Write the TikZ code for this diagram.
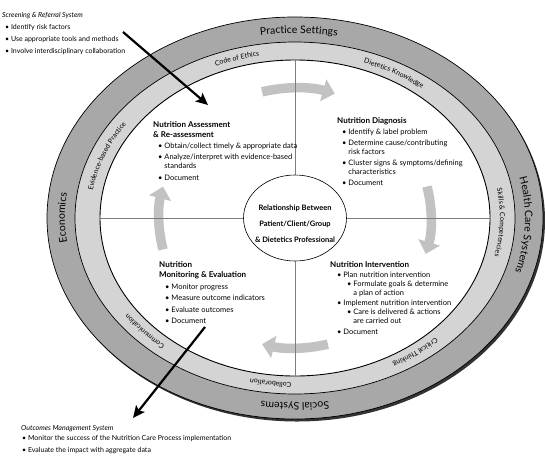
\documentclass[tikz,border=0pt]{standalone}
\usepackage{fontspec}
\setmainfont{Lato}
\usetikzlibrary{arrows.meta,positioning,decorations.text,shapes.geometric}
\definecolor{outerband}{RGB}{168,168,168}
\definecolor{innerband}{RGB}{212,212,212}
\definecolor{cyclegrey}{RGB}{194,194,194}
\definecolor{divgrey}{RGB}{125,125,125}
\tikzset{
  ringline/.style={draw=black,line width=0.7pt},
  divider/.style={draw=divgrey,line width=0.6pt},
  cyc/.style={draw=cyclegrey,line width=9.5pt,-{Triangle[length=12pt,width=22pt]}},
  pointer/.style={draw=black,line width=2.2pt,-{Stealth[length=12pt,width=11pt,inset=2.5pt]}},
  steptitle/.style={font=\fontsize{8}{10}\selectfont\bfseries,align=left,inner sep=0pt,anchor=north west},
  steplist/.style={font=\fontsize{7.5}{9}\selectfont,align=left,inner sep=0pt,anchor=north west},
  systitle/.style={font=\fontsize{7}{8}\selectfont\itshape,inner sep=0pt,anchor=base west},
  syslist/.style={font=\fontsize{7}{12}\selectfont,align=left,inner sep=0pt,anchor=north west},
  relring/.style={ellipse,draw=black,line width=0.6pt,fill=white,
                  minimum width=103pt,minimum height=86pt,inner sep=0pt},
  reltext/.style={font=\fontsize{7.5}{16}\selectfont\bfseries,align=center,inner sep=0pt},
  bigring/.style={decorate,/utils/exec={\fontsize{10.5}{10.5}\selectfont},
                  decoration={text along path,text align=center,text={#1}}},
  smallring/.style={decorate,/utils/exec={\fontsize{7}{7}\selectfont},
                  decoration={text along path,text align=center,text={#1}}},
}
\begin{document}
\begin{tikzpicture}[x=1pt,y=-1pt]
  \useasboundingbox (0,0) rectangle (545,458);
  \coordinate (ctr) at (295,218);

  % rings
  \fill[black!80] ([shift={(2,2.5)}]ctr) ellipse[x radius=248,y radius=201];
  \filldraw[ringline,fill=outerband] (ctr) ellipse[x radius=248,y radius=201];
  \filldraw[ringline,fill=innerband] (ctr) ellipse[x radius=220,y radius=176];
  \filldraw[ringline,line width=0.9pt,fill=white] (ctr) ellipse[x radius=195,y radius=158];

  % outer band labels
  \path[bigring={Practice Settings}] ([shift={(-119:230 and 185)}]ctr)
      arc[start angle=-119,end angle=-59,x radius=230,y radius=185];
  \path[bigring={Health Care Systems}] ([shift={(-33:230 and 185)}]ctr)
      arc[start angle=-33,end angle=37,x radius=230,y radius=185];
  \path[bigring={Social Systems}] ([shift={(60:230 and 185)}]ctr)
      arc[start angle=60,end angle=120,x radius=230,y radius=185];
  \path[bigring={Economics}] ([shift={(150:230 and 185)}]ctr)
      arc[start angle=150,end angle=210,x radius=230,y radius=185];

  % inner band labels
  \path[smallring={Code of Ethics}] ([shift={(-135:205 and 164.5)}]ctr)
      arc[start angle=-135,end angle=-79,x radius=205,y radius=164.5];
  \path[smallring={Dietetics Knowledge}] ([shift={(-90:205 and 164.5)}]ctr)
      arc[start angle=-90,end angle=-30,x radius=205,y radius=164.5];
  \path[smallring={Skills {\&} Competencies}] ([shift={(-30:205 and 164.5)}]ctr)
      arc[start angle=-30,end angle=33,x radius=205,y radius=164.5];
  \path[smallring={Critical Thinking}] ([shift={(25:205 and 164.5)}]ctr)
      arc[start angle=25,end angle=81,x radius=205,y radius=164.5];
  \path[smallring={Collaboration}] ([shift={(72:205 and 164.5)}]ctr)
      arc[start angle=72,end angle=122,x radius=205,y radius=164.5];
  \path[smallring={Communication}] ([shift={(113:205 and 164.5)}]ctr)
      arc[start angle=113,end angle=163,x radius=205,y radius=164.5];
  \path[smallring={Evidence-based Practice}] ([shift={(170:205 and 164.5)}]ctr)
      arc[start angle=170,end angle=232,x radius=205,y radius=164.5];

  % cycle arrows
  \draw[cyc] ([shift={(-104:136 and 130)}]ctr)
      arc[start angle=-104,end angle=-73,x radius=136,y radius=130];
  \draw[cyc] ([shift={(-14:136 and 130)}]ctr)
      arc[start angle=-14,end angle=16,x radius=136,y radius=130];
  \draw[cyc] ([shift={(76:136 and 130)}]ctr)
      arc[start angle=76,end angle=104,x radius=136,y radius=130];
  \draw[cyc] ([shift={(166:136 and 130)}]ctr)
      arc[start angle=166,end angle=194,x radius=136,y radius=130];

  % centre
  \coordinate (inN) at (295,60);
  \coordinate (inS) at (295,376);
  \coordinate (inW) at (100,218);
  \coordinate (inE) at (490,218);
  \node[relring] (rel) at (295,218) {};
  \draw[divider] (inN) -- (rel.north);
  \draw[divider] (rel.south) -- (inS);
  \draw[divider] (inW) -- (rel.west);
  \draw[divider] (rel.east) -- (inE);
  \node[reltext] (reltxt) at (295,224)
    {Relationship Between\\Patient/Client/Group\\\& Dietetics Professional};

  % the four steps
  \node[steptitle] (assessT) at (153,121) {Nutrition Assessment\\\& Re-assessment};
  \node[steplist]  (assessL) at (158,142.5)
    {\textbullet\ Obtain/collect timely \& appropriate data\\[2.5pt]
     \textbullet\ Analyze/interpret with evidence-based\\
     \phantom{\textbullet\ }standards\\[2.5pt]
     \textbullet\ Document};

  \node[steptitle] (diagT) at (337,117) {Nutrition Diagnosis};
  \node[steplist]  (diagL) at (342,128.5)
    {\textbullet\ Identify \& label problem\\[2pt]
     \textbullet\ Determine cause/contributing\\
     \phantom{\textbullet\ }risk factors\\[2pt]
     \textbullet\ Cluster signs \& symptoms/defining\\
     \phantom{\textbullet\ }characteristics\\[2pt]
     \textbullet\ Document};

  \node[steptitle] (interT) at (330,261) {Nutrition Intervention};
  \node[steplist]  (interL) at (337,271.5)
    {\textbullet\ Plan nutrition intervention\\
     \hspace*{10pt}\textbullet\ Formulate goals \& determine\\
     \hspace*{10pt}\phantom{\textbullet\ }a plan of action\\[1.5pt]
     \textbullet\ Implement nutrition intervention\\
     \hspace*{10pt}\textbullet\ Care is delivered \& actions\\
     \hspace*{10pt}\phantom{\textbullet\ }are carried out\\[1.5pt]
     \textbullet\ Document};

  \node[steptitle] (monT) at (159,261) {Nutrition\\Monitoring \& Evaluation};
  \node[steplist]  (monL) at (165,283.5)
    {\textbullet\ Monitor progress\\[2.5pt]
     \textbullet\ Measure outcome indicators\\[2.5pt]
     \textbullet\ Evaluate outcomes\\[2.5pt]
     \textbullet\ Document};

  % systems outside the rings
  \node[systitle] (scrT) at (2,17) {Screening \& Referral System};
  \node[syslist]  (scrL) at (5,23.8)
    {\textbullet\ Identify risk factors\\
     \textbullet\ Use appropriate tools and methods\\
     \textbullet\ Involve interdisciplinary collaboration};
  \node[systitle] (outT) at (21,430) {Outcomes Management System};
  \node[syslist]  (outL) at (22,434.8)
    {\textbullet\ Monitor the success of the Nutrition Care Process implementation\\
     \textbullet\ Evaluate the impact with aggregate data};

  \coordinate (scrTail) at (123,32);
  \coordinate (scrHead) at (208,105);
  \coordinate (outTail) at (205,327);
  \coordinate (outHead) at (133,418);
  \draw[pointer] (scrTail) -- (scrHead);
  \draw[pointer] (outTail) -- (outHead);
\end{tikzpicture}
\end{document}
